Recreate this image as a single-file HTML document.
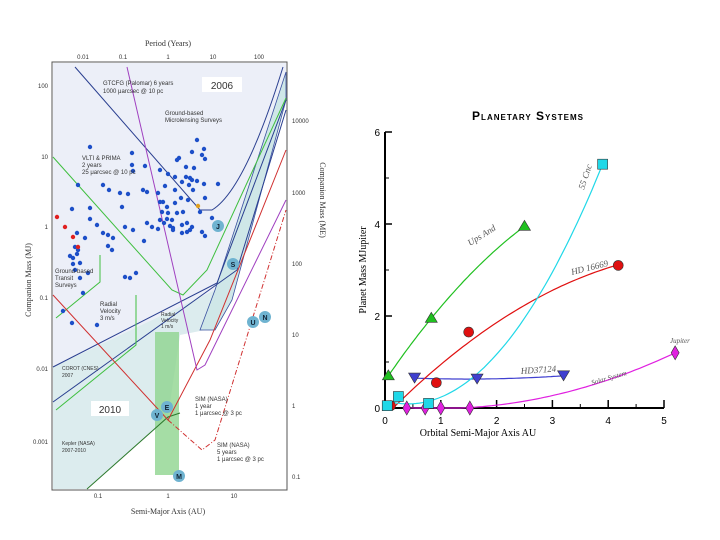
<!DOCTYPE html>
<html><head><meta charset="utf-8"><style>
html,body{margin:0;padding:0;background:#fff;}
svg{display:block;font-family:"Liberation Sans",sans-serif;}
.s{font-family:"Liberation Serif",serif;}
</style></head><body>
<svg id="root" width="720" height="540" viewBox="0 0 720 540">
<g id="left">
  <rect x="52" y="62" width="235" height="428" fill="#fff" stroke="#555"/>
  <polygon points="53,63 286,63 286,72 215,290 53,367" fill="#eceff8"/>
  <polygon points="53,367 215,290 228,300 205,330 180,335 168,417 87,489 53,489" fill="#dcecee"/>
  <polygon points="215,290 286,72 286,100 232,300 215,330 200,330" fill="#cfe7e8" stroke="#3a50a0" stroke-width="0.8"/>
  <rect x="155" y="332" width="24" height="143" fill="#8fd58f" opacity="0.8"/>
  <g fill="none" stroke-width="1">
    <path d="M75,67 L200,210 L212,210 Q245,190 283,67" stroke="#2a3f90"/>
    <path d="M53,367 L217,283 L286,100" stroke="#2a3f90"/>
    <path d="M53,402 L237,270 L286,110" stroke="#2a3f90"/>
    <path d="M53,157 L172,290 L183,295 L207,270 L286,98" stroke="#3fbf3f"/>
    <path d="M56,318 L100,282 L100,255 M56,410 L136,345 L136,295" stroke="#3fbf3f"/>
    <path d="M87,489 L168,417 L180,413" stroke="#2d7a2d"/>
    <path d="M53,295 L168,420 L210,340 L286,150" stroke="#d03030"/>
    <path d="M168,420 L202,450 L215,440 L286,210" stroke="#d03030" stroke-dasharray="5,2,1,2"/>
    <path d="M127,67 L197,370 L205,365 L286,200" stroke="#a040c0"/>
  </g>
  <g id="dots"></g>
  <g font-size="7" fill="#333">
    <g>
      <circle cx="218" cy="226" r="6" fill="#6fb3d0"/><text x="218" y="229" text-anchor="middle" font-weight="bold" fill="#123">J</text>
      <circle cx="233" cy="264" r="6" fill="#6fb3d0"/><text x="233" y="267" text-anchor="middle" font-weight="bold" fill="#123">S</text>
      <circle cx="253" cy="322" r="6" fill="#6fb3d0"/><text x="253" y="325" text-anchor="middle" font-weight="bold" fill="#123">U</text>
      <circle cx="265" cy="317" r="6" fill="#6fb3d0"/><text x="265" y="320" text-anchor="middle" font-weight="bold" fill="#123">N</text>
      <circle cx="157" cy="415" r="6" fill="#6fb3d0"/><text x="157" y="418" text-anchor="middle" font-weight="bold" fill="#123">V</text>
      <circle cx="167" cy="407" r="6" fill="#6fb3d0"/><text x="167" y="410" text-anchor="middle" font-weight="bold" fill="#123">E</text>
      <circle cx="179" cy="476" r="6" fill="#6fb3d0"/><text x="179" y="479" text-anchor="middle" font-weight="bold" fill="#123">M</text>
    </g>
    <rect x="202" y="77" width="40" height="15" fill="#fff"/><text x="222" y="89" font-size="10" text-anchor="middle">2006</text>
    <rect x="91" y="401" width="38" height="15" fill="#fff"/><text x="110" y="413" font-size="10" text-anchor="middle">2010</text>
    <text x="103" y="85" font-size="6"><tspan>GTCFG (Palomar) 6 years</tspan><tspan x="103" dy="8">1000 μarcsec @ 10 pc</tspan></text>
    <text x="165" y="115" font-size="6"><tspan>Ground-based</tspan><tspan x="165" dy="7">Microlensing Surveys</tspan></text>
    <text x="82" y="160" font-size="6"><tspan>VLTI &amp; PRIMA</tspan><tspan x="82" dy="7">2 years</tspan><tspan x="82" dy="7">25 μarcsec @ 10 pc</tspan></text>
    <text x="55" y="273" font-size="6"><tspan>Ground-based</tspan><tspan x="55" dy="7">Transit</tspan><tspan x="55" dy="7">Surveys</tspan></text>
    <text x="100" y="306" font-size="6"><tspan>Radial</tspan><tspan x="100" dy="7">Velocity</tspan><tspan x="100" dy="7">3 m/s</tspan></text>
    <text x="161" y="316" font-size="5"><tspan>Radial</tspan><tspan x="161" dy="6">Velocity</tspan><tspan x="161" dy="6">1 m/s</tspan></text>
    <text x="62" y="370" font-size="5"><tspan>COROT (CNES)</tspan><tspan x="62" dy="7">2007</tspan></text>
    <text x="62" y="445" font-size="5"><tspan>Kepler (NASA)</tspan><tspan x="62" dy="7">2007-2010</tspan></text>
    <text x="195" y="401" font-size="6"><tspan>SIM (NASA)</tspan><tspan x="195" dy="7">1 year</tspan><tspan x="195" dy="7">1 μarcsec @ 3 pc</tspan></text>
    <text x="217" y="447" font-size="6"><tspan>SIM (NASA)</tspan><tspan x="217" dy="7">5 years</tspan><tspan x="217" dy="7">1 μarcsec @ 3 pc</tspan></text>
    <text x="168" y="46" font-size="8" text-anchor="middle" class="s">Period (Years)</text>
    <g font-size="6" text-anchor="middle">
      <text x="83" y="59">0.01</text><text x="123" y="59">0.1</text><text x="168" y="59">1</text><text x="213" y="59">10</text><text x="259" y="59">100</text></g>
    <g font-size="6" text-anchor="end">
      <text x="48" y="88">100</text><text x="48" y="159">10</text><text x="48" y="229">1</text><text x="48" y="300">0.1</text><text x="48" y="371">0.01</text><text x="48" y="444">0.001</text></g>
    <g font-size="6">
      <text x="292" y="123">10000</text><text x="292" y="195">1000</text><text x="292" y="266">100</text><text x="292" y="337">10</text><text x="292" y="408">1</text><text x="292" y="479">0.1</text></g>
    <g font-size="6" text-anchor="middle">
      <text x="98" y="498">0.1</text><text x="168" y="498">1</text><text x="234" y="498">10</text></g>
    <text x="168" y="514" font-size="8" text-anchor="middle" class="s">Semi-Major Axis (AU)</text>
    <text transform="translate(31,280) rotate(-90)" font-size="8" text-anchor="middle" class="s">Companion Mass (MJ)</text>
    <text transform="translate(320,200) rotate(90)" font-size="8" text-anchor="middle" class="s">Companion Mass (ME)</text>
  </g>
</g>
<g id="right">
  <text x="528" y="120" font-size="12" font-weight="bold" text-anchor="middle" style="font-variant:small-caps;letter-spacing:1px">Planetary Systems</text>
  <g id="axes"></g>
  <g id="curves"></g>
  <g id="marks"></g>
  <text transform="translate(366,270) rotate(-90)" font-size="10" text-anchor="middle" class="s">Planet Mass  MJupiter</text>
  <text x="478" y="436" font-size="10" text-anchor="middle" class="s">Orbital Semi-Major Axis  AU</text>
  <g font-size="9" font-style="italic" class="s" fill="#555">
    <text transform="translate(470,246) rotate(-32)">Ups And</text>
    <text transform="translate(584,190) rotate(-72)">55 Cnc</text>
    <text transform="translate(572,275) rotate(-14)">HD 16669</text>
    <text transform="translate(521,374) rotate(-4)">HD37124</text>
    <text transform="translate(592,385) rotate(-16)" font-size="7">Solar System</text>
    <text x="670" y="343" font-size="7">Jupiter</text>
  </g>
</g>
</svg>
<script>
const NS='http://www.w3.org/2000/svg';
const dotX=[90,132,132,133,145,177,179,197,204,192,202,205,160,168,175,186,194,186,190,192,182,197,189,204,165,175,193,158,181,188,205,218,143,147,128,120,103,109,78,72,90,122,163,160,167,175,183,162,168,177,200,160,167,172,164,170,173,182,187,192,152,158,187,182,173,190,202,205,212,133,147,125,144,90,97,103,108,113,77,85,108,112,75,78,77,70,73,80,73,125,130,136,75,80,88,83,63,72,97];
const dotY=[147,153,165,171,166,160,158,140,149,152,155,159,170,174,177,167,168,177,178,180,182,181,185,184,186,190,190,193,198,200,198,184,190,192,194,193,185,190,185,209,208,207,202,202,207,203,212,212,213,213,212,220,219,220,223,226,228,225,223,227,227,229,232,233,230,230,232,236,218,230,223,227,241,219,225,233,235,238,233,238,246,250,247,250,254,256,258,263,264,277,278,273,270,278,273,293,311,323,325];
const redX=[57,65,73,78], redY=[217,227,237,247];
const dg=document.getElementById('dots');
function mk(t,a,p){const e=document.createElementNS(NS,t);for(const k in a)e.setAttribute(k,a[k]);p.appendChild(e);return e;}
dotX.forEach((x,i)=>{const c=mk('circle',{cx:x,cy:dotY[i],r:2.2,fill:'#1d4fc8'},dg);

});
redX.forEach((x,i)=>{const c=mk('circle',{cx:x,cy:redY[i],r:2.2,fill:'#e02020'},dg);

});
mk('circle',{cx:198,cy:206,r:2.2,fill:'#e0a020'},dg);

// Right chart data
const xTicks=[0,1,2,3,4,5];
const yTicks=[0,2,4,6];
const upsA=[0.06,0.83,2.5], upsM=[0.7,1.95,3.95];
const cncA=[0.04,0.24,0.78,3.9], cncM=[0.05,0.25,0.1,5.3];
const hd16A=[0.1,0.92,1.5,4.18], hd16M=[0.05,0.55,1.65,3.1];
const hd37A=[0.53,1.65,3.2], hd37M=[0.65,0.63,0.7];
const solA=[0.39,0.72,1.0,1.52,5.2], solM=[0.0,0.0,0.0,0.0,1.2];

const X=a=>385+a*55.8, Y=m=>408-m*46;
const ax=document.getElementById('axes');
let l=mk('line',{x1:385,y1:Y(6),x2:385,y2:408,stroke:'#000','stroke-width':2},ax);


l=mk('line',{x1:385,y1:408,x2:X(5),y2:408,stroke:'#000','stroke-width':2},ax);


xTicks.forEach(v=>{mk('line',{x1:X(v),y1:408,x2:X(v),y2:400,stroke:'#000','stroke-width':1.5},ax);
if(v<5)mk('line',{x1:X(v+0.5),y1:408,x2:X(v+0.5),y2:404,stroke:'#000'},ax);
const t=mk('text',{x:X(v),y:424,'font-size':10,'text-anchor':'middle'},ax);t.textContent=v;

});
yTicks.forEach(v=>{mk('line',{x1:385,y1:Y(v),x2:392,y2:Y(v),stroke:'#000','stroke-width':1.5},ax);
if(v<6)mk('line',{x1:385,y1:Y(v+1),x2:389,y2:Y(v+1),stroke:'#000'},ax);
const t=mk('text',{x:380,y:Y(v)+4,'font-size':10,'text-anchor':'end'},ax);t.textContent=v;

});

function fit2(xs,ys){let S=[[0,0,0],[0,0,0],[0,0,0]],b=[0,0,0];
xs.forEach((x,i)=>{const p=[1,x,x*x];for(let r=0;r<3;r++){b[r]+=p[r]*ys[i];for(let c=0;c<3;c++)S[r][c]+=p[r]*p[c];}});
for(let i=0;i<3;i++){let m=i;for(let r=i+1;r<3;r++)if(Math.abs(S[r][i])>Math.abs(S[m][i]))m=r;[S[i],S[m]]=[S[m],S[i]];[b[i],b[m]]=[b[m],b[i]];
for(let r=0;r<3;r++)if(r!==i){const f=S[r][i]/S[i][i];for(let c=0;c<3;c++)S[r][c]-=f*S[i][c];b[r]-=f*b[i];}}
return [b[0]/S[0][0],b[1]/S[1][1],b[2]/S[2][2]];}
const cv=document.getElementById('curves'), mg=document.getElementById('marks');
function series(xs,ys,col,shape,name){
  const c=fit2(xs,ys);const x0=Math.min(...xs),x1=Math.max(...xs);let d='';
  for(let i=0;i<=60;i++){const x=x0+(x1-x0)*i/60;let y=c[0]+c[1]*x+c[2]*x*x;y=Math.max(y,0);d+=(i?'L':'M')+X(x).toFixed(1)+','+Y(y).toFixed(1);}
  const p=mk('path',{d:d,fill:'none',stroke:col,'stroke-width':1.2},cv);
  
  
  xs.forEach((x,i)=>{const px=X(x),py=Y(ys[i]);let e;
    if(shape==='tri')e=mk('polygon',{points:`${px},${py-6} ${px-6},${py+4} ${px+6},${py+4}`},mg);
    else if(shape==='dtri')e=mk('polygon',{points:`${px},${py+5} ${px-6},${py-5} ${px+6},${py-5}`},mg);
    else if(shape==='sq')e=mk('rect',{x:px-5,y:py-5,width:10,height:10},mg);
    else if(shape==='dia')e=mk('polygon',{points:`${px},${py-7} ${px-4},${py} ${px},${py+7} ${px+4},${py}`},mg);
    else e=mk('circle',{cx:px,cy:py,r:5},mg);
    e.setAttribute('fill',col);e.setAttribute('stroke','#333');e.setAttribute('stroke-width','0.6');
    
    });
}
series(solA,solM,'#e020e0','dia','solar-system');
series(hd37A,hd37M,'#4040d0','dtri','hd37124');
series(hd16A,hd16M,'#e01010','circ','hd16669');
series(upsA,upsM,'#20c020','tri','ups-and');
series(cncA,cncM,'#20d8e8','sq','55-cnc');
</script>
</body></html>
